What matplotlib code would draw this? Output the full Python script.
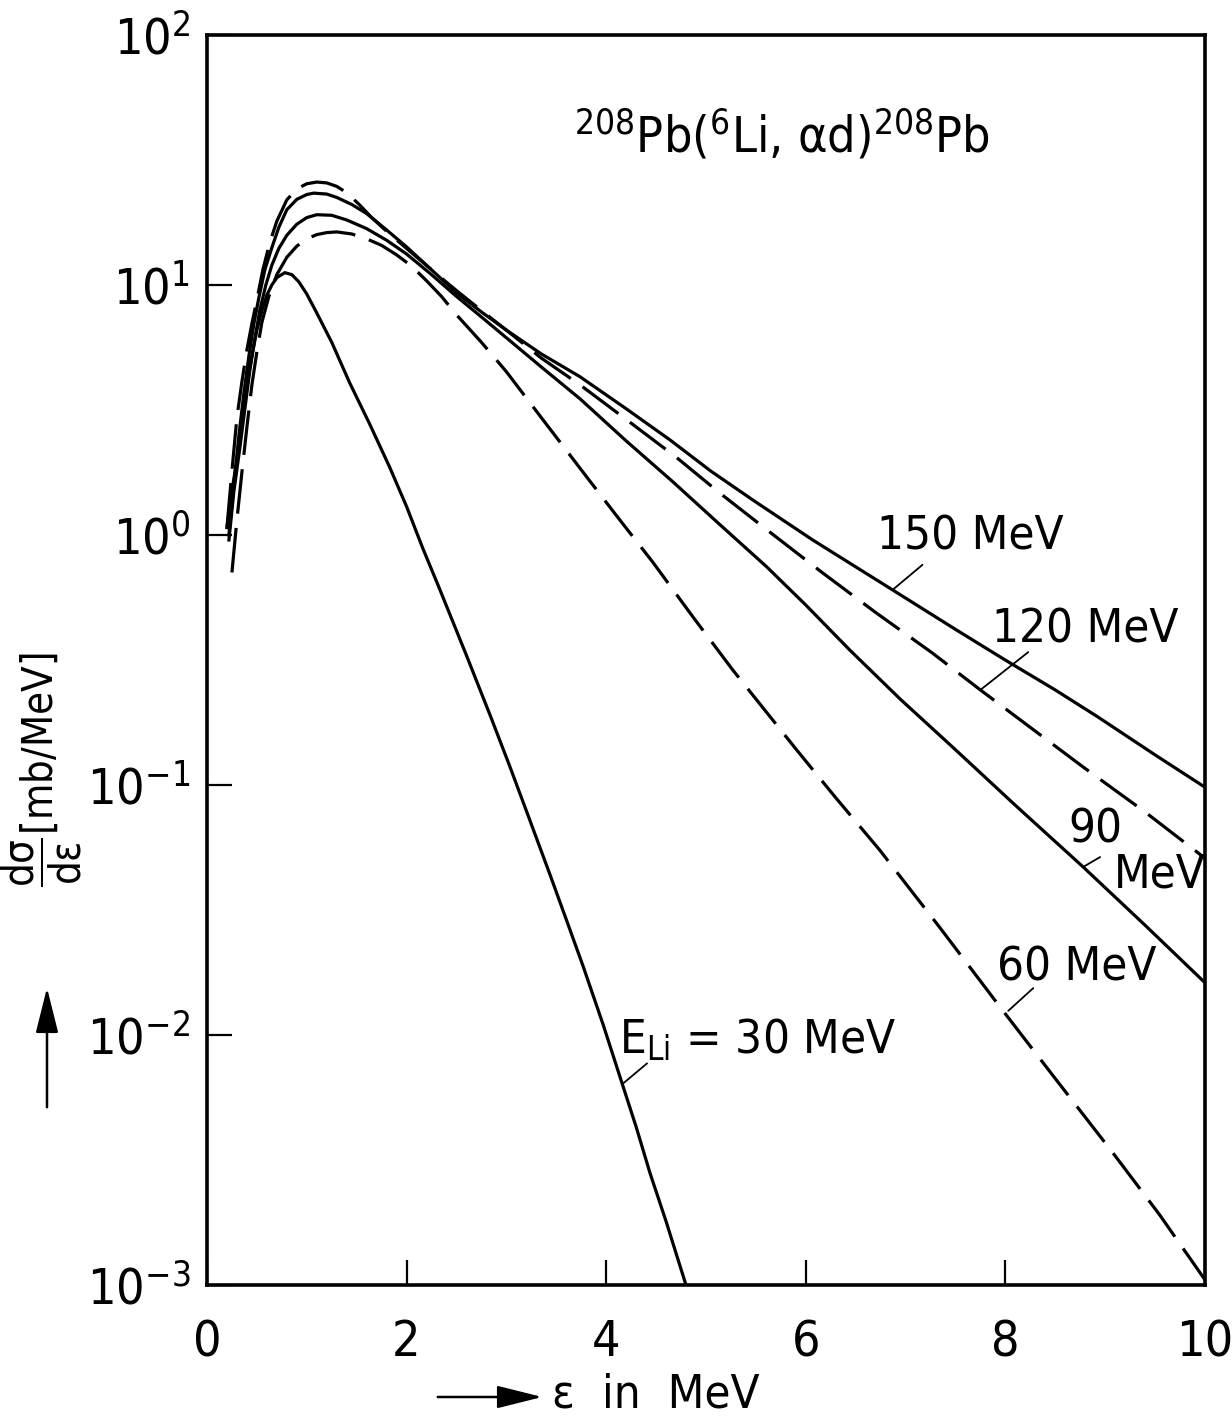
import matplotlib
matplotlib.use("Agg")
import matplotlib.pyplot as plt
from matplotlib.ticker import FixedLocator, FuncFormatter
from matplotlib.patches import FancyArrowPatch

plt.rcParams['font.family'] = ['DejaVu Sans']
plt.rcParams['font.stretch'] = 'condensed'
plt.rcParams['mathtext.fontset'] = 'custom'
plt.rcParams['mathtext.rm'] = 'DejaVu Sans:stretch=condensed'
plt.rcParams['mathtext.it'] = 'DejaVu Sans:stretch=condensed'
plt.rcParams['mathtext.sf'] = 'DejaVu Sans:stretch=condensed'

# ---------------- data ----------------
x_30 = [0.20, 0.25, 0.30, 0.35, 0.40, 0.45, 0.50, 0.55, 0.60, 0.65, 0.70, 0.78,
        0.85, 0.92, 1.00, 1.10, 1.25, 1.43, 1.63, 1.83, 2.00, 2.16, 2.33, 2.60,
        2.84, 3.03, 3.21, 3.44, 3.60, 3.77, 3.97, 4.16, 4.30, 4.44, 4.60, 4.80]
y_30 = [1.07, 1.5, 2.0, 2.8, 3.98, 5.2, 6.6, 7.9, 9.1, 10.0, 10.7, 11.2,
        11.0, 10.3, 9.2, 7.73, 5.9, 4.06, 2.78, 1.87, 1.3, 0.89, 0.61, 0.33,
        0.189, 0.12, 0.077, 0.0435, 0.029, 0.0188, 0.011, 0.0064, 0.0043, 0.0028,
        0.0018, 0.001]

x_60 = [0.25, 0.30, 0.35, 0.40, 0.45, 0.50, 0.55, 0.62, 0.70, 0.80, 0.90, 1.00,
        1.10, 1.20, 1.30, 1.45, 1.60, 1.75, 1.90, 2.05, 2.20, 2.35, 2.50, 2.75,
        3.00, 3.33, 3.77, 4.10, 4.47, 4.87, 5.27, 5.60, 5.91, 6.30, 6.74, 7.35,
        7.95, 8.50, 9.08, 9.55, 10.0]
y_60 = [0.708, 1.15, 1.78, 2.7, 3.98, 5.4, 7.08, 9.0, 11.0, 12.9, 14.3, 15.3,
        15.9, 16.2, 16.3, 16.0, 15.3, 14.4, 13.2, 11.9, 10.4, 9.0, 7.6, 5.9,
        4.5, 3.02, 1.78, 1.2, 0.776, 0.47, 0.288, 0.197, 0.138, 0.089, 0.055, 0.0267,
        0.0129, 0.0067, 0.00337, 0.0019, 0.00105]

x_90 = [0.22, 0.27, 0.33, 0.38, 0.43, 0.48, 0.53, 0.59, 0.65, 0.72, 0.80, 0.90,
        1.00, 1.10, 1.25, 1.40, 1.60, 1.80, 2.00, 2.25, 2.50, 2.75, 3.00, 3.35,
        3.74, 4.20, 4.67, 5.14, 5.61, 6.00, 6.44, 6.95, 7.47, 8.10, 8.78, 9.40, 10.0]
y_90 = [0.955, 1.5, 2.24, 3.2, 4.57, 6.1, 7.94, 10.0, 12.0, 14.0, 15.8, 17.5,
        18.6, 19.1, 19.0, 18.2, 16.8, 15.1, 13.3, 11.0, 9.0, 7.45, 6.15, 4.7,
        3.5, 2.38, 1.63, 1.1, 0.745, 0.525, 0.347, 0.22, 0.142, 0.083, 0.047, 0.0275, 0.0162]

x_120 = [0.20, 0.25, 0.30, 0.35, 0.40, 0.45, 0.50, 0.56, 0.63, 0.70, 0.80, 0.90,
         1.00, 1.10, 1.20, 1.30, 1.40, 1.53, 1.65, 1.80, 2.00, 2.25, 2.50, 2.75,
         3.00, 3.35, 3.74, 4.21, 4.70, 5.14, 5.65, 6.17, 6.70, 7.27, 7.75, 8.25,
         8.78, 9.40, 10.0]
y_120 = [1.07, 1.8, 2.95, 4.1, 5.5, 7.0, 8.71, 11.5, 14.8, 18.0, 21.9, 24.2,
         25.4, 25.8, 25.6, 24.8, 23.4, 20.9, 18.6, 16.4, 14.0, 11.5, 9.5, 7.9,
         6.6, 5.1, 3.98, 2.88, 2.05, 1.47, 1.02, 0.705, 0.49, 0.337, 0.24, 0.17,
         0.118, 0.078, 0.051]

x_150 = [0.22, 0.27, 0.32, 0.37, 0.42, 0.47, 0.52, 0.58, 0.65, 0.72, 0.80, 0.90,
         1.00, 1.07, 1.20, 1.30, 1.45, 1.60, 1.80, 2.00, 2.25, 2.50, 2.75, 3.00,
         3.35, 3.74, 4.20, 4.64, 5.05, 5.47, 6.07, 6.87, 7.51, 8.00, 8.50, 8.92,
         9.50, 10.0]
y_150 = [1.0, 1.6, 2.5, 3.7, 5.2, 7.0, 8.9, 11.5, 14.1, 17.0, 20.0, 22.0,
         23.0, 23.3, 23.1, 22.4, 21.0, 19.3, 16.6, 14.2, 11.5, 9.3, 7.8, 6.6,
         5.3, 4.29, 3.2, 2.4, 1.8, 1.38, 0.955, 0.603, 0.417, 0.316, 0.24, 0.188,
         0.132, 0.098]

x_ticks = [0, 2, 4, 6, 8, 10]
y_ticks = [1e-3, 1e-2, 1e-1, 1e0, 1e1, 1e2]
y_exps = ['-3', '-2', '-1', '0', '1', '2']

# ---------------- figure ----------------
fig = plt.figure(figsize=(12.32, 14.27), dpi=100)
ax = fig.add_axes([0.168, 0.0995, 0.81, 0.876])

LW = 2.3
DASH = (14, 4.5)
ax.plot(x_30, y_30, color='black', lw=LW)
ax.plot(x_60, y_60, color='black', lw=LW, linestyle=(0, DASH))
ax.plot(x_90, y_90, color='black', lw=LW)
ax.plot(x_120, y_120, color='black', lw=LW, linestyle=(0, DASH))
ax.plot(x_150, y_150, color='black', lw=LW)

ax.set_yscale('log')
ax.set_xlim(0, 10)
ax.set_ylim(1e-3, 1e2)

ax.xaxis.set_major_locator(FixedLocator(x_ticks))
ax.yaxis.set_major_locator(FixedLocator(y_ticks))
ax.yaxis.set_minor_locator(FixedLocator([]))
ax.xaxis.set_major_formatter(FuncFormatter(lambda v, p: f"{int(v)}"))
ax.yaxis.set_major_formatter(FuncFormatter(
    lambda v, p: r"$10^{%s}$" % y_exps[y_ticks.index(v)] if v in y_ticks else ""))

ax.tick_params(axis='both', direction='in', length=18, width=1.6,
               top=False, right=False, labelsize=36)
ax.tick_params(axis='x', pad=24)
ax.tick_params(axis='y', pad=12)
for s in ax.spines.values():
    s.set_linewidth(2.6)

# ---------------- annotations ----------------
ax.text(5.76, 40, r"$^{208}$Pb($^{6}$Li, $\alpha$d)$^{208}$Pb", fontsize=36,
        ha='center', va='center')

lbl = dict(fontsize=34, ha='center', va='center')
line = dict(arrowstyle='-', color='black', lw=1.3, shrinkA=0, shrinkB=0)

ax.text(7.65, 0.98, "150 MeV", **lbl)
ax.annotate("", xy=(6.87, 0.603), xytext=(7.17, 0.76), arrowprops=line)

ax.text(8.8, 0.417, "120 MeV", **lbl)
ax.annotate("", xy=(7.75, 0.24), xytext=(8.23, 0.34), arrowprops=line)

ax.text(8.9, 0.066, "90", **lbl)
ax.text(9.55, 0.0437, "MeV", **lbl)
ax.annotate("", xy=(8.78, 0.047), xytext=(8.95, 0.0515), arrowprops=line)

ax.text(8.72, 0.0185, "60 MeV", **lbl)
ax.annotate("", xy=(8.03, 0.0125), xytext=(8.28, 0.0154), arrowprops=line)

ax.text(5.52, 0.0095, r"E$_{\rm Li}$ = 30 MeV", **lbl)
ax.annotate("", xy=(4.17, 0.0064), xytext=(4.41, 0.0077), arrowprops=line)

# axis labels with arrows (figure coordinates)
fig.text(42 / 1232, 1 - 770 / 1427, r"$\dfrac{d\sigma}{d\varepsilon}$[mb/MeV]",
         rotation=90, fontsize=30, ha='center', va='center')
fig.add_artist(FancyArrowPatch(
    (47 / 1232, 1 - 1110 / 1427), (47 / 1232, 1 - 985 / 1427),
    transform=fig.transFigure, arrowstyle='-|>,head_length=1.4,head_width=0.35',
    mutation_scale=20, color='black', lw=1.8))

fig.text(552 / 1232, 1 - 1395 / 1427, "ε  in  MeV", fontsize=34,
         ha='left', va='center')
fig.add_artist(FancyArrowPatch(
    (435 / 1232, 1 - 1397 / 1427), (545 / 1232, 1 - 1397 / 1427),
    transform=fig.transFigure, arrowstyle='-|>,head_length=1.4,head_width=0.35',
    mutation_scale=20, color='black', lw=1.8))

fig.savefig("out.png", dpi=100)
